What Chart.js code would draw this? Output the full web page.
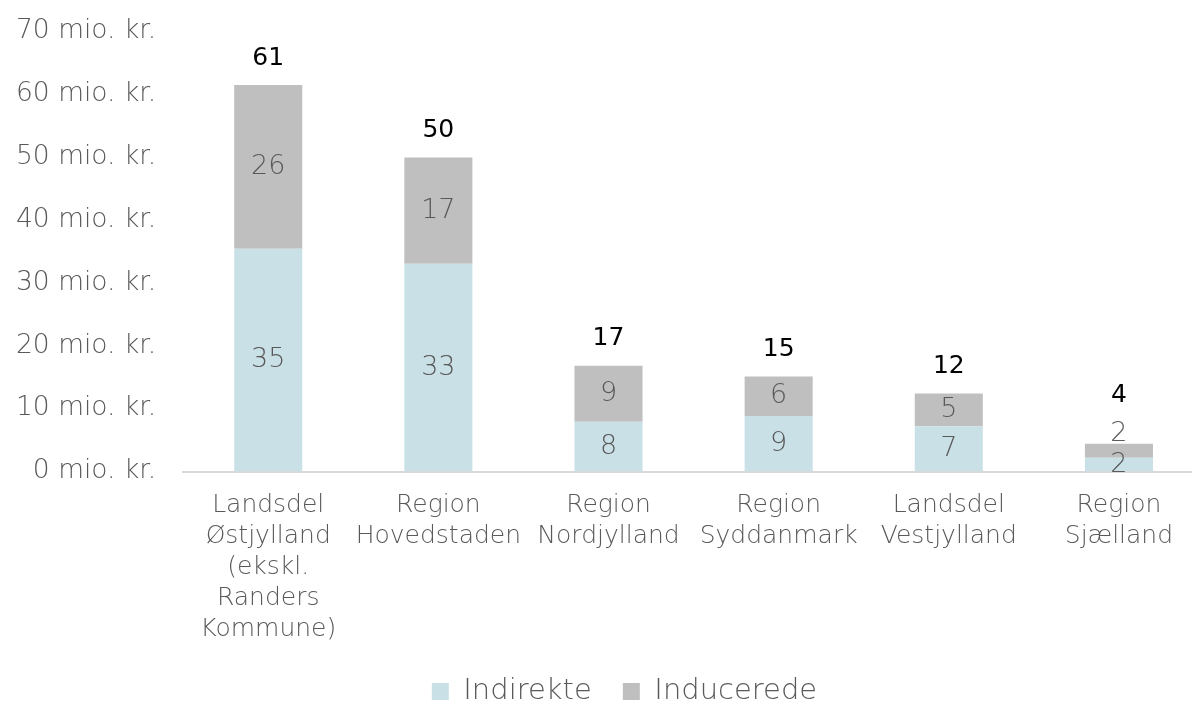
<!DOCTYPE html>
<html>
<head>
<meta charset="utf-8">
<script src="https://cdn.jsdelivr.net/npm/chart.js@4/dist/chart.umd.min.js"></script>
<style>
  html, body { margin: 0; padding: 0; background: #ffffff; overflow: hidden; }
  #wrap { width: 1192px; height: 702px; overflow: hidden; }
</style>
</head>
<body>
<div id="wrap"><canvas id="c" width="1206" height="702"></canvas></div>
<script>
const categories = [
  ["Landsdel", "Østjylland", "(ekskl.", "Randers", "Kommune)"],
  ["Region", "Hovedstaden"],
  ["Region", "Nordjylland"],
  ["Region", "Syddanmark"],
  ["Landsdel", "Vestjylland"],
  ["Region", "Sjælland"]
];
const indirekte = [35.4, 33.0, 7.9, 8.8, 7.2, 2.2];
const inducerede = [26.0, 16.9, 8.9, 6.3, 5.2, 2.2];
const seriesNames = ["Indirekte", "Inducerede"];
const yTickMax = 70;
const yTickStep = 10;
const yTickSuffix = " mio. kr.";

const FONT = "'DejaVu Sans', sans-serif";
const GRAY_TEXT = "#595959";

const labelPlugin = {
  id: "stackLabels",
  afterLayout(chart) {
    if (chart.legend) {
      chart.legend.left += 28;
      chart.legend.right += 28;
    }
  },
  afterDatasetsDraw(chart) {
    const ctx = chart.ctx;
    const metas = chart.data.datasets.map((d, i) => chart.getDatasetMeta(i));
    const n = chart.data.labels.length;
    ctx.save();
    ctx.textAlign = "center";
    ctx.textBaseline = "middle";
    for (let j = 0; j < n; j++) {
      let prevY = Infinity;
      let topY = Infinity;
      let total = 0;
      let x = 0;
      metas.forEach((meta, i) => {
        const el = meta.data[j];
        const v = chart.data.datasets[i].data[j];
        total += v;
        x = el.x;
        let y = (el.y + el.base) / 2;
        y = Math.min(y, prevY - 31);
        prevY = y;
        topY = Math.min(topY, el.y);
        ctx.font = "200 27px " + FONT;
        ctx.fillStyle = GRAY_TEXT;
        ctx.fillText(String(Math.round(v)), x, y);
      });
      const ty = Math.min(topY - 27, prevY - 38);
      ctx.font = "400 25px " + FONT;
      ctx.fillStyle = "#000000";
      ctx.fillText(String(Math.round(total)), x, ty);
    }
    ctx.restore();
  }
};

new Chart(document.getElementById("c"), {
  type: "bar",
  data: {
    labels: categories,
    datasets: [
      { label: seriesNames[0], data: indirekte, backgroundColor: "#c9e0e6", stack: "s" },
      { label: seriesNames[1], data: inducerede, backgroundColor: "#bfbfbf", stack: "s" }
    ]
  },
  options: {
    responsive: false,
    animation: false,
    devicePixelRatio: 1,
    layout: { padding: { top: 0, right: 2, left: -11, bottom: -14 } },
    datasets: { bar: { categoryPercentage: 1.0, barPercentage: 0.4 } },
    scales: {
      x: {
        stacked: true,
        grid: { display: false, drawTicks: false },
        border: { display: true, color: "#d9d9d9", width: 2 },
        afterFit: (scale) => { scale.height -= 16.5; },
        ticks: {
          color: GRAY_TEXT,
          padding: 18,
          maxRotation: 0,
          autoSkip: false,
          font: { family: FONT, size: 25, weight: 200, lineHeight: 1.24 }
        }
      },
      y: {
        stacked: true,
        min: 0,
        max: yTickMax,
        grid: { display: false, drawTicks: false },
        border: { display: false },
        ticks: {
          stepSize: yTickStep,
          color: GRAY_TEXT,
          padding: 27,
          autoSkip: false,
          font: { family: FONT, size: 26.5, weight: 200, lineHeight: 0.3 },
          callback: (v) => v + yTickSuffix
        }
      }
    },
    plugins: {
      legend: {
        position: "bottom",
        labels: {
          color: GRAY_TEXT,
          boxWidth: 17,
          boxHeight: 17,
          padding: 31,
          font: { family: FONT, size: 29, weight: 200 }
        }
      },
      tooltip: { enabled: false }
    }
  },
  plugins: [labelPlugin]
});
</script>
</body>
</html>
